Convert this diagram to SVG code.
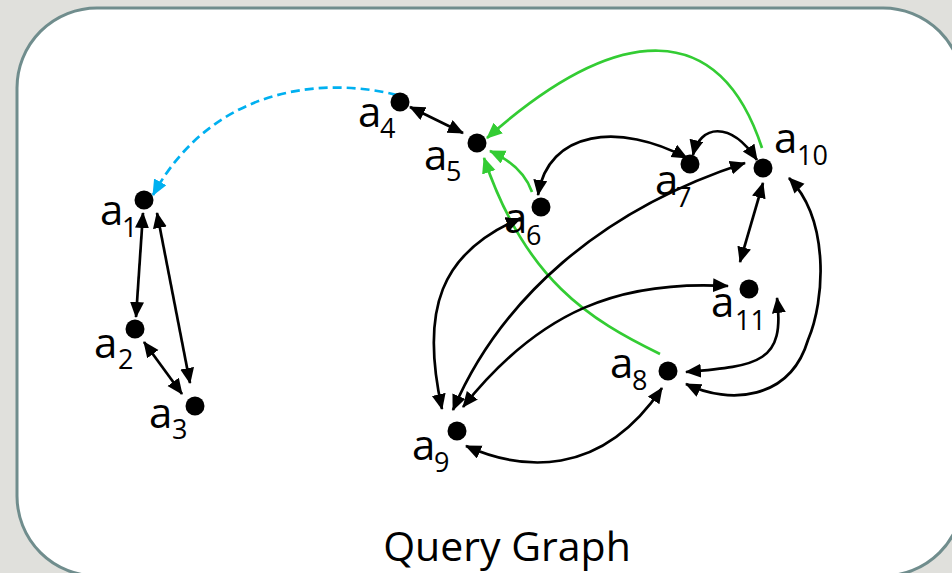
<svg xmlns="http://www.w3.org/2000/svg" width="952" height="573" viewBox="0 0 952 573">
<defs>
<style>
.lbl{font-family:"Open Sans","Noto Sans","Liberation Sans",sans-serif;font-size:42px;fill:#000}
.sub{font-size:27px}
.dot{fill:#000}
.e{fill:none;stroke:#000;stroke-width:2.7}
.k{marker-start:url(#ak);marker-end:url(#ak)}
.g{fill:none;stroke:#33cc33;stroke-width:2.7;marker-end:url(#ag)}
.b{fill:none;stroke:#00b0f0;stroke-width:2.7;stroke-dasharray:9 5;marker-end:url(#ab)}
</style>
<marker id="ak" markerUnits="userSpaceOnUse" markerWidth="18" markerHeight="16" refX="15" refY="7" orient="auto-start-reverse"><path d="M0,0 L16,7 L0,14 z" fill="#000"/></marker>
<marker id="ag" markerUnits="userSpaceOnUse" markerWidth="18" markerHeight="16" refX="15" refY="7" orient="auto-start-reverse"><path d="M0,0 L16,7 L0,14 z" fill="#33cc33"/></marker>
<marker id="ab" markerUnits="userSpaceOnUse" markerWidth="18" markerHeight="16" refX="15" refY="7" orient="auto-start-reverse"><path d="M0,0 L16,7 L0,14 z" fill="#00b0f0"/></marker>
</defs>
<rect x="0" y="0" width="952" height="573" fill="#e0e0dc"/>
<rect x="17" y="8" width="946" height="568" rx="80" ry="80" fill="#ffffff" stroke="#708d8d" stroke-width="3"/>

<g id="connectors">
<path class="e k" d="M143 213 L136 317"/>
<path class="e k" d="M157 213 L190 383"/>
<path class="e k" d="M144 342 L182 394"/>
<path class="b" d="M397 95 C330 78 215 82 153 195"/>
<path class="e k" d="M410 107 L463 133"/>
<path class="g" d="M762 148 C720 20 620 20 487 138"/>
<path class="g" d="M532 192 C525 172 510 160 490 151"/>
<path class="g" d="M660 354 C590 320 525 280 484 158"/>
<path class="e k" d="M538 195 C548 130 620 122 687 158"/>
<path class="e k" d="M693 155 C700 125 730 120 757 160"/>
<path class="e k" d="M521 218 C440 252 420 310 442 409"/>
<path class="e k" d="M453 410 C500 300 600 210 745 163"/>
<path class="e k" d="M463 407 C540 310 620 280 728 286"/>
<path class="e k" d="M466 446 C520 470 600 480 662 388"/>
<path class="e k" d="M686 372 C760 366 785 362 777 298"/>
<path class="e k" d="M686 384 C730 405 790 400 808 340 C825 300 830 220 789 178"/>
<path class="e k" d="M763 183 L740 262"/>
</g>

<g id="a1"><circle class="dot" cx="144" cy="200" r="9.5"/><text class="lbl" x="100" y="225">a<tspan class="sub" x="122" y="237">1</tspan></text></g>
<g id="a2"><circle class="dot" cx="135" cy="329" r="9.5"/><text class="lbl" x="94" y="358">a<tspan class="sub" x="118" y="369">2</tspan></text></g>
<g id="a3"><circle class="dot" cx="195" cy="406" r="9.5"/><text class="lbl" x="149" y="428">a<tspan class="sub" x="172" y="439">3</tspan></text></g>
<g id="a4"><circle class="dot" cx="400" cy="102" r="9.5"/><text class="lbl" x="358" y="127">a<tspan class="sub" x="380" y="138">4</tspan></text></g>
<g id="a5"><circle class="dot" cx="477" cy="143" r="9.5"/><text class="lbl" x="424" y="170">a<tspan class="sub" x="446" y="181">5</tspan></text></g>
<g id="a6"><circle class="dot" cx="541" cy="207" r="9.5"/><text class="lbl" x="504" y="233">a<tspan class="sub" x="526" y="245">6</tspan></text></g>
<g id="a7"><circle class="dot" cx="690" cy="164" r="9.5"/><text class="lbl" x="655" y="195">a<tspan class="sub" x="676" y="207">7</tspan></text></g>
<g id="a8"><circle class="dot" cx="668" cy="371" r="9.5"/><text class="lbl" x="610" y="378">a<tspan class="sub" x="632" y="390">8</tspan></text></g>
<g id="a9"><circle class="dot" cx="457" cy="431" r="9.5"/><text class="lbl" x="412" y="460">a<tspan class="sub" x="434" y="472">9</tspan></text></g>
<g id="a10"><circle class="dot" cx="763" cy="168" r="9.5"/><text class="lbl" x="774" y="153">a<tspan class="sub" x="797" y="165">10</tspan></text></g>
<g id="a11"><circle class="dot" cx="749" cy="289" r="9.5"/><text class="lbl" x="711" y="317">a<tspan class="sub" x="735" y="330">11</tspan></text></g>

<g id="title"><text class="lbl" x="507" y="561" text-anchor="middle" style="font-size:41px">Query Graph</text></g>
</svg>
